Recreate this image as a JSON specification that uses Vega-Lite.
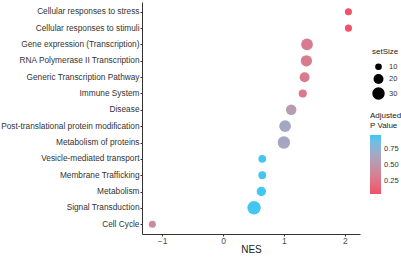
{
  "$schema": "https://vega.github.io/schema/vega-lite/v6.json",
  "width": 218,
  "height": 232,
  "autosize": {"type": "none"},
  "padding": {"left": 142, "top": 2, "right": 41, "bottom": 23},
  "background": "white",
  "config": {
    "view": {"stroke": null},
    "font": "Liberation Sans",
    "axis": {"grid": false, "domainColor": "#333333", "tickColor": "#333333", "labelColor": "#4D4D4D", "labelFontSize": 8.3, "tickSize": 2, "domainWidth": 1}
  },
  "data": {
    "values": [
      {"pathway": "Cellular responses to stress", "NES": 2.06, "setSize": 11, "p": 0.05},
      {"pathway": "Cellular responses to stimuli", "NES": 2.06, "setSize": 11, "p": 0.05},
      {"pathway": "Gene expression (Transcription)", "NES": 1.38, "setSize": 27, "p": 0.3},
      {"pathway": "RNA Polymerase II Transcription", "NES": 1.37, "setSize": 25, "p": 0.3},
      {"pathway": "Generic Transcription Pathway", "NES": 1.34, "setSize": 20, "p": 0.3},
      {"pathway": "Immune System", "NES": 1.31, "setSize": 14, "p": 0.28},
      {"pathway": "Disease", "NES": 1.12, "setSize": 22, "p": 0.55},
      {"pathway": "Post-translational protein modification", "NES": 1.02, "setSize": 27, "p": 0.65},
      {"pathway": "Metabolism of proteins", "NES": 1.0, "setSize": 30, "p": 0.65},
      {"pathway": "Vesicle-mediated transport", "NES": 0.645, "setSize": 13, "p": 0.95},
      {"pathway": "Membrane Trafficking", "NES": 0.645, "setSize": 13, "p": 0.95},
      {"pathway": "Metabolism", "NES": 0.63, "setSize": 18, "p": 0.95},
      {"pathway": "Signal Transduction", "NES": 0.51, "setSize": 35, "p": 0.95},
      {"pathway": "Cell Cycle", "NES": -1.16, "setSize": 11, "p": 0.42}
    ]
  },
  "mark": {"type": "circle", "opacity": 1},
  "encoding": {
    "x": {
      "field": "NES", "type": "quantitative",
      "scale": {"domain": [-1.33, 2.25], "nice": false, "zero": false},
      "axis": {"values": [-1, 0, 1, 2], "title": "NES", "titleFontSize": 10, "titleFontWeight": "normal", "titleColor": "#222222", "titlePadding": 0, "labelPadding": 0, "labelFontSize": 8.5}
    },
    "y": {
      "field": "pathway", "type": "nominal",
      "sort": ["Cellular responses to stress", "Cellular responses to stimuli", "Gene expression (Transcription)", "RNA Polymerase II Transcription", "Generic Transcription Pathway", "Immune System", "Disease", "Post-translational protein modification", "Metabolism of proteins", "Vesicle-mediated transport", "Membrane Trafficking", "Metabolism", "Signal Transduction", "Cell Cycle"],
      "scale": {"padding": 0.6},
      "axis": {"title": null, "labelColor": "#333333", "labelPadding": 1}
    },
    "size": {
      "field": "setSize", "type": "quantitative",
      "scale": {"domain": [10, 30], "range": [44, 154], "zero": false},
      "legend": {
        "orient": "none", "legendX": 230, "legendY": 46,
        "title": "setSize", "titleFontSize": 8, "titleFontWeight": "normal", "titleColor": "#222222",
        "values": [10, 20, 30], "symbolFillColor": "black", "symbolStrokeWidth": 0, "symbolOpacity": 1,
        "labelFontSize": 7.5, "labelColor": "#333333", "rowPadding": 3, "labelOffset": 4, "titlePadding": 7
      }
    },
    "color": {
      "field": "p", "type": "quantitative",
      "scale": {"domain": [0.04, 0.97], "range": ["#F24E69", "#33C8F5"], "interpolate": "lab"},
      "legend": {
        "orient": "none", "legendX": 228, "legendY": 110,
        "title": ["Adjusted", "\u00a0P Value"], "titleFontSize": 8, "titleFontWeight": "normal", "titleColor": "#222222",
        "values": [0.25, 0.5, 0.75], "format": ".2f",
        "gradientLength": 59, "gradientThickness": 11, "labelFontSize": 7.5, "labelColor": "#333333", "labelOffset": 3
      }
    }
  }
}
